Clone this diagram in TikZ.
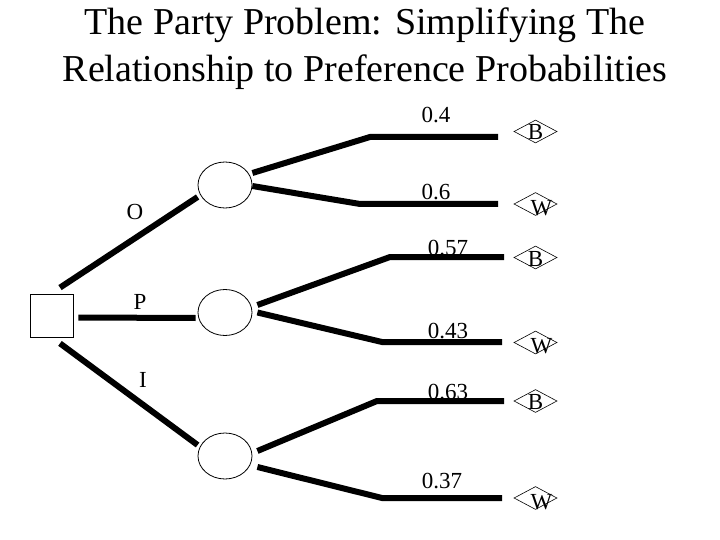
\documentclass[tikz,border=0pt]{standalone}
\usepackage{fontspec}
\setmainfont{Liberation Serif}
\usetikzlibrary{shapes.geometric}

\tikzset{
    branch/.style={line width=6pt},
    decision/.style={draw, rectangle, line width=0.8pt, minimum size=43pt, inner sep=0pt},
    chance/.style={draw, ellipse, line width=0.8pt, minimum width=54pt, minimum height=46pt, inner sep=0pt},
    outcome/.style={draw, diamond, line width=0.6pt, minimum width=43pt, minimum height=23pt, inner sep=0pt},
    lbl/.style={font=\fontsize{23}{23}\selectfont, inner sep=0pt, anchor=base},
    heading/.style={font=\fontsize{38}{38}\selectfont, inner sep=0pt, anchor=base},
}

\begin{document}
\begin{tikzpicture}[x=1pt, y=-1pt]
    \useasboundingbox (0,0) rectangle (720,540);

    % Заголовок
    \node[heading] (title1) at (365,35) {The Party Problem: Simplifying The};
    \node[heading] (title2) at (365,82) {Relationship to Preference Probabilities};

    % Узлы дерева
    \node[decision] (sq) at (51.5,315.5) {};
    \node[chance] (cO) at (225,185) {};
    \node[chance] (cP) at (225,312.5) {};
    \node[chance] (cI) at (225,456) {};

    % Исходы
    \node[outcome] (tB1) at (535.5,131.5) {};
    \node[outcome] (tW1) at (535.5,204) {};
    \node[outcome] (tB2) at (535.5,257.5) {};
    \node[outcome] (tW2) at (535.5,342.5) {};
    \node[outcome] (tB3) at (535.5,401) {};
    \node[outcome] (tW3) at (535.5,498) {};
    \node[lbl] (lB1) at ([yshift=-8.5pt]tB1.center) {B};
    \node[lbl] (lW1) at ([xshift=6pt,yshift=-11pt]tW1.center) {W};
    \node[lbl] (lB2) at ([yshift=-8.5pt]tB2.center) {B};
    \node[lbl] (lW2) at ([xshift=6pt,yshift=-11pt]tW2.center) {W};
    \node[lbl] (lB3) at ([yshift=-8.5pt]tB3.center) {B};
    \node[lbl] (lW3) at ([xshift=6pt,yshift=-11pt]tW3.center) {W};

    % Изломы и концы ветвей
    \coordinate (k1) at (370,137);
    \coordinate (e1) at (498,137);
    \coordinate (k2) at (360,204);
    \coordinate (e2) at (498,204);
    \coordinate (k3) at (390,257);
    \coordinate (e3) at (504,257);
    \coordinate (k4) at (382,342);
    \coordinate (e4) at (502,342);
    \coordinate (k5) at (377,401);
    \coordinate (e5) at (504,401);
    \coordinate (k6) at (382,498);
    \coordinate (e6) at (502,498);

    % Решения
    \draw[branch] ([xshift=8.5pt,yshift=6pt]sq.north) -- ([yshift=-12pt]cO.west);
    \draw[branch] ([xshift=5pt,yshift=-2pt]sq.east) -- ([xshift=-2pt,yshift=-5.5pt]cP.west);
    \draw[branch] ([xshift=8.5pt,yshift=-6pt]sq.south) -- ([yshift=11pt]cI.west);
    \node[lbl] (lO) at (135,219) {O};
    \node[lbl] (lP) at (140,309) {P};
    \node[lbl] (lI) at (143,387) {I};

    % Вероятности
    \draw[branch] ([yshift=12pt]cO.east) -- (k1) -- (e1);
    \draw[branch] ([yshift=-1pt]cO.east) -- (k2) -- (e2);
    \draw[branch] ([xshift=5pt,yshift=7.5pt]cP.east) -- (k3) -- (e3);
    \draw[branch] ([xshift=5pt]cP.east) -- (k4) -- (e4);
    \draw[branch] ([xshift=5pt,yshift=5pt]cI.east) -- (k5) -- (e5);
    \draw[branch] ([xshift=5pt,yshift=-11pt]cI.east) -- (k6) -- (e6);
    \node[lbl] (p1) at (436,123) {0.4};
    \node[lbl] (p2) at (436,200) {0.6};
    \node[lbl] (p3) at (448,255) {0.57};
    \node[lbl] (p4) at (448,338) {0.43};
    \node[lbl] (p5) at (448,399) {0.63};
    \node[lbl] (p6) at (442,488) {0.37};

\end{tikzpicture}
\end{document}
